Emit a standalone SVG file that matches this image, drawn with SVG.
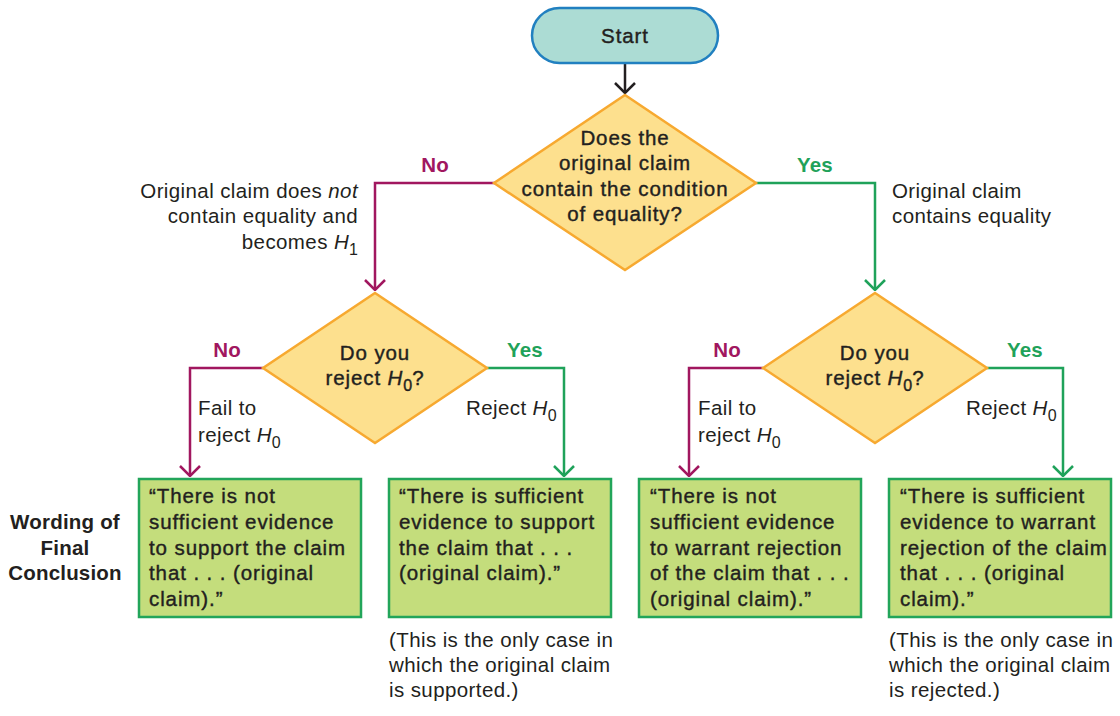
<svg xmlns="http://www.w3.org/2000/svg" width="1120" height="716" viewBox="0 0 1120 716">
<style>
text{font-family:"Liberation Sans",Arial,sans-serif;fill:#231f20}
.med{font-size:20.5px;letter-spacing:0.9px;stroke:#231f20;stroke-width:0.4px}
.reg{font-size:20.5px;letter-spacing:0.4px}
.bold{font-size:20.5px;font-weight:bold;letter-spacing:0.2px}
.no{fill:#a1175f}
.yes{fill:#1fa25a}
.c{text-anchor:middle}
.r{text-anchor:end}
.sub{font-size:16px;font-style:normal;letter-spacing:0}
.it{font-style:italic}
.diamond{fill:#fde08e;stroke:#f7a930;stroke-width:2.5}
.box{fill:#c4dd7c;stroke:#22a55a;stroke-width:2.5}
.pl{fill:none;stroke:#a1175f;stroke-width:2.5}
.gl{fill:none;stroke:#1fa25a;stroke-width:2.5}
.bl{fill:none;stroke:#231f20;stroke-width:2.5}
</style>
<defs>
<marker id="ab" markerUnits="userSpaceOnUse" viewBox="0 0 12 22" refX="11" refY="11" markerWidth="12" markerHeight="22" orient="auto"><path d="M1,1 L11,11 L1,21" fill="none" stroke="#231f20" stroke-width="2.5"/></marker>
<marker id="ap" markerUnits="userSpaceOnUse" viewBox="0 0 12 22" refX="11" refY="11" markerWidth="12" markerHeight="22" orient="auto"><path d="M1,1 L11,11 L1,21" fill="none" stroke="#a1175f" stroke-width="2.5"/></marker>
<marker id="ag" markerUnits="userSpaceOnUse" viewBox="0 0 12 22" refX="11" refY="11" markerWidth="12" markerHeight="22" orient="auto"><path d="M1,1 L11,11 L1,21" fill="none" stroke="#1fa25a" stroke-width="2.5"/></marker>
</defs>

<g id="connectors">
<path class="bl" d="M625,63 L625,93" marker-end="url(#ab)"/>
<path class="pl" d="M495,183 L375,183 L375,290" marker-end="url(#ap)"/>
<path class="gl" d="M756,183 L875,183 L875,290" marker-end="url(#ag)"/>
<path class="pl" d="M263,368 L190,368 L190,476" marker-end="url(#ap)"/>
<path class="gl" d="M487,368 L564,368 L564,476" marker-end="url(#ag)"/>
<path class="pl" d="M763,368 L689,368 L689,476" marker-end="url(#ap)"/>
<path class="gl" d="M987,368 L1063,368 L1063,476" marker-end="url(#ag)"/>
<text class="bold no c" x="435" y="172">No</text>
<text class="bold yes c" x="815" y="172">Yes</text>
<text class="reg r" x="358" y="198">Original claim does <tspan class="it">not</tspan></text>
<text class="reg r" x="358" y="223">contain equality and</text>
<text class="reg r" x="358" y="249">becomes <tspan class="it">H</tspan><tspan class="sub" dy="6">1</tspan></text>
<text class="reg" x="892" y="198">Original claim</text>
<text class="reg" x="892" y="223">contains equality</text>
<text class="bold no c" x="227" y="357">No</text>
<text class="bold yes c" x="525" y="357">Yes</text>
<text class="reg" x="198" y="415">Fail to</text>
<text class="reg" x="198" y="442">reject <tspan class="it">H</tspan><tspan class="sub" dy="6">0</tspan></text>
<text class="reg" x="466" y="415">Reject <tspan class="it">H</tspan><tspan class="sub" dy="6">0</tspan></text>
<text class="bold no c" x="727" y="357">No</text>
<text class="bold yes c" x="1025" y="357">Yes</text>
<text class="reg" x="698" y="415">Fail to</text>
<text class="reg" x="698" y="442">reject <tspan class="it">H</tspan><tspan class="sub" dy="6">0</tspan></text>
<text class="reg" x="966" y="415">Reject <tspan class="it">H</tspan><tspan class="sub" dy="6">0</tspan></text>
</g>

<g id="start">
<rect x="532" y="8" width="186" height="55" rx="27.5" fill="#acdcd4" stroke="#2180c0" stroke-width="2.5"/>
<text class="med c" x="625" y="43">Start</text>
</g>

<g id="q1">
<polygon class="diamond" points="625,95 756,183 625,270 494,183"/>
<text class="med c" x="625" y="145">Does the</text>
<text class="med c" x="625" y="170">original claim</text>
<text class="med c" x="625" y="196">contain the condition</text>
<text class="med c" x="625" y="221">of equality?</text>
</g>

<g id="q2left">
<polygon class="diamond" points="375,293 487,368 375,443 263,368"/>
<text class="med c" x="375" y="360">Do you</text>
<text class="med c" x="375" y="385">reject <tspan class="it">H</tspan><tspan class="sub" dy="6">0</tspan><tspan dy="-6">?</tspan></text>
</g>

<g id="q2right">
<polygon class="diamond" points="875,293 987,368 875,443 763,368"/>
<text class="med c" x="875" y="360">Do you</text>
<text class="med c" x="875" y="385">reject <tspan class="it">H</tspan><tspan class="sub" dy="6">0</tspan><tspan dy="-6">?</tspan></text>
</g>

<g id="label">
<text class="bold c" x="65" y="529">Wording of</text>
<text class="bold c" x="65" y="555">Final</text>
<text class="bold c" x="65" y="580">Conclusion</text>
</g>

<g id="box1">
<rect class="box" x="139" y="479" width="222" height="138"/>
<text class="med" x="149" y="503">“There is not</text>
<text class="med" x="149" y="529">sufficient evidence</text>
<text class="med" x="149" y="555">to support the claim</text>
<text class="med" x="149" y="580">that . . . (original</text>
<text class="med" x="149" y="606">claim).”</text>
</g>

<g id="box2">
<rect class="box" x="389" y="479" width="222" height="138"/>
<text class="med" x="399" y="503">“There is sufficient</text>
<text class="med" x="399" y="529">evidence to support</text>
<text class="med" x="399" y="555">the claim that . . .</text>
<text class="med" x="399" y="580">(original claim).”</text>
</g>

<g id="box3">
<rect class="box" x="639" y="479" width="222" height="138"/>
<text class="med" x="650" y="503">“There is not</text>
<text class="med" x="650" y="529">sufficient evidence</text>
<text class="med" x="650" y="555">to warrant rejection</text>
<text class="med" x="650" y="580">of the claim that . . .</text>
<text class="med" x="650" y="606">(original claim).”</text>
</g>

<g id="box4">
<rect class="box" x="889" y="479" width="222" height="138"/>
<text class="med" x="900" y="503">“There is sufficient</text>
<text class="med" x="900" y="529">evidence to warrant</text>
<text class="med" x="900" y="555">rejection of the claim</text>
<text class="med" x="900" y="580">that . . . (original</text>
<text class="med" x="900" y="606">claim).”</text>
</g>

<g id="note-left">
<text class="reg" x="389" y="647">(This is the only case in</text>
<text class="reg" x="389" y="672">which the original claim</text>
<text class="reg" x="389" y="697">is supported.)</text>
</g>

<g id="note-right">
<text class="reg" x="889" y="647">(This is the only case in</text>
<text class="reg" x="889" y="672">which the original claim</text>
<text class="reg" x="889" y="697">is rejected.)</text>
</g>
</svg>
